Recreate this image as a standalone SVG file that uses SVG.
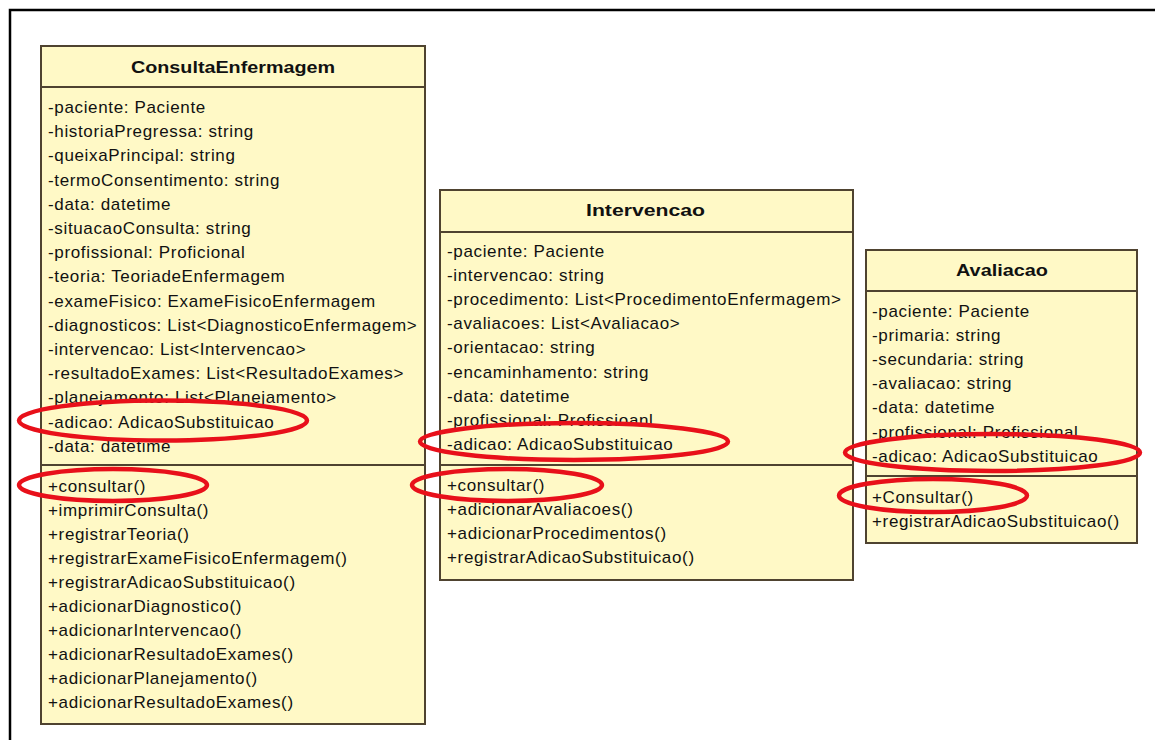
<svg xmlns="http://www.w3.org/2000/svg" width="1155" height="740" viewBox="0 0 1155 740">
  <style>
    .box { fill: #FFF9C6; stroke: #4F4330; stroke-width: 2; }
    .sep { stroke: #4F4330; stroke-width: 2; }
    .title { font-family: "Liberation Sans", Arial, sans-serif; font-size: 17px; font-weight: bold; fill: #111; text-anchor: middle; }
    .row { font-family: "Liberation Sans", Arial, sans-serif; font-size: 17px; letter-spacing: 0.65px; fill: #111; }
    .mark { fill: none; stroke: #E8101A; stroke-width: 4.5; }
    .frame { stroke: #000; stroke-width: 2.5; fill: none; }
  </style>

  <rect width="1155" height="740" fill="#FFFFFF"/>
  <!-- outer frame (top and left edges) -->
  <path class="frame" d="M10,740 V10 H1155"/>

  <!-- ConsultaEnfermagem class -->
  <g id="consultaEnfermagem">
    <rect class="box" x="41" y="46" width="384" height="678"/>
    <line class="sep" x1="41" y1="87" x2="425" y2="87"/>
    <line class="sep" x1="41" y1="465" x2="425" y2="465"/>
    <text class="title" x="233" y="73" textLength="204" lengthAdjust="spacingAndGlyphs">ConsultaEnfermagem</text>
    <text class="row" x="48">
      <tspan x="48" y="113">-paciente: Paciente</tspan>
      <tspan x="48" y="137.2">-historiaPregressa: string</tspan>
      <tspan x="48" y="161.4">-queixaPrincipal: string</tspan>
      <tspan x="48" y="185.6">-termoConsentimento: string</tspan>
      <tspan x="48" y="209.8">-data: datetime</tspan>
      <tspan x="48" y="234">-situacaoConsulta: string</tspan>
      <tspan x="48" y="258.2">-profissional: Proficional</tspan>
      <tspan x="48" y="282.4">-teoria: TeoriadeEnfermagem</tspan>
      <tspan x="48" y="306.6">-exameFisico: ExameFisicoEnfermagem</tspan>
      <tspan x="48" y="330.8">-diagnosticos: List&lt;DiagnosticoEnfermagem&gt;</tspan>
      <tspan x="48" y="355">-intervencao: List&lt;Intervencao&gt;</tspan>
      <tspan x="48" y="379.2">-resultadoExames: List&lt;ResultadoExames&gt;</tspan>
      <tspan x="48" y="403.4">-planejamento: List&lt;Planejamento&gt;</tspan>
      <tspan x="48" y="427.6">-adicao: AdicaoSubstituicao</tspan>
      <tspan x="48" y="451.8">-data: datetime</tspan>
    </text>
    <text class="row" x="48">
      <tspan x="48" y="491.5">+consultar()</tspan>
      <tspan x="48" y="515.6">+imprimirConsulta()</tspan>
      <tspan x="48" y="539.7">+registrarTeoria()</tspan>
      <tspan x="48" y="563.8">+registrarExameFisicoEnfermagem()</tspan>
      <tspan x="48" y="587.9">+registrarAdicaoSubstituicao()</tspan>
      <tspan x="48" y="612">+adicionarDiagnostico()</tspan>
      <tspan x="48" y="636.1">+adicionarIntervencao()</tspan>
      <tspan x="48" y="660.2">+adicionarResultadoExames()</tspan>
      <tspan x="48" y="684.3">+adicionarPlanejamento()</tspan>
      <tspan x="48" y="708.4">+adicionarResultadoExames()</tspan>
    </text>
  </g>

  <!-- Intervencao class -->
  <g id="intervencao">
    <rect class="box" x="440" y="190" width="413" height="390"/>
    <line class="sep" x1="440" y1="232" x2="853" y2="232"/>
    <line class="sep" x1="440" y1="465" x2="853" y2="465"/>
    <text class="title" x="645.5" y="216" textLength="119" lengthAdjust="spacingAndGlyphs">Intervencao</text>
    <text class="row" x="447">
      <tspan x="447" y="257">-paciente: Paciente</tspan>
      <tspan x="447" y="281.1">-intervencao: string</tspan>
      <tspan x="447" y="305.2">-procedimento: List&lt;ProcedimentoEnfermagem&gt;</tspan>
      <tspan x="447" y="329.3">-avaliacoes: List&lt;Avaliacao&gt;</tspan>
      <tspan x="447" y="353.4">-orientacao: string</tspan>
      <tspan x="447" y="377.5">-encaminhamento: string</tspan>
      <tspan x="447" y="401.6">-data: datetime</tspan>
      <tspan x="447" y="425.7">-profissional: Profissioanl</tspan>
      <tspan x="447" y="449.8">-adicao: AdicaoSubstituicao</tspan>
    </text>
    <text class="row" x="447">
      <tspan x="447" y="490.7">+consultar()</tspan>
      <tspan x="447" y="514.8">+adicionarAvaliacoes()</tspan>
      <tspan x="447" y="538.9">+adicionarProcedimentos()</tspan>
      <tspan x="447" y="563">+registrarAdicaoSubstituicao()</tspan>
    </text>
  </g>

  <!-- Avaliacao class -->
  <g id="avaliacao">
    <rect class="box" x="866" y="250" width="271" height="293"/>
    <line class="sep" x1="866" y1="291" x2="1137" y2="291"/>
    <line class="sep" x1="866" y1="476" x2="1137" y2="476"/>
    <text class="title" x="1002" y="276" textLength="92" lengthAdjust="spacingAndGlyphs">Avaliacao</text>
    <text class="row" x="872">
      <tspan x="872" y="317">-paciente: Paciente</tspan>
      <tspan x="872" y="341.1">-primaria: string</tspan>
      <tspan x="872" y="365.2">-secundaria: string</tspan>
      <tspan x="872" y="389.3">-avaliacao: string</tspan>
      <tspan x="872" y="413.4">-data: datetime</tspan>
      <tspan x="872" y="437.5">-profissional: Profissional</tspan>
      <tspan x="872" y="461.6">-adicao: AdicaoSubstituicao</tspan>
    </text>
    <text class="row" x="872">
      <tspan x="872" y="503">+Consultar()</tspan>
      <tspan x="872" y="527">+registrarAdicaoSubstituicao()</tspan>
    </text>
  </g>

  <!-- highlight marks -->
  <g id="highlights">
    <ellipse class="mark" cx="163" cy="420.5" rx="144" ry="20"/>
    <ellipse class="mark" cx="113" cy="485" rx="94" ry="16"/>
    <ellipse class="mark" cx="574" cy="441.5" rx="154" ry="18.5"/>
    <ellipse class="mark" cx="507" cy="485" rx="95" ry="16"/>
    <ellipse class="mark" cx="992.5" cy="452.5" rx="147.5" ry="18.5"/>
    <ellipse class="mark" cx="933" cy="495.5" rx="94" ry="16.5"/>
  </g>
</svg>
